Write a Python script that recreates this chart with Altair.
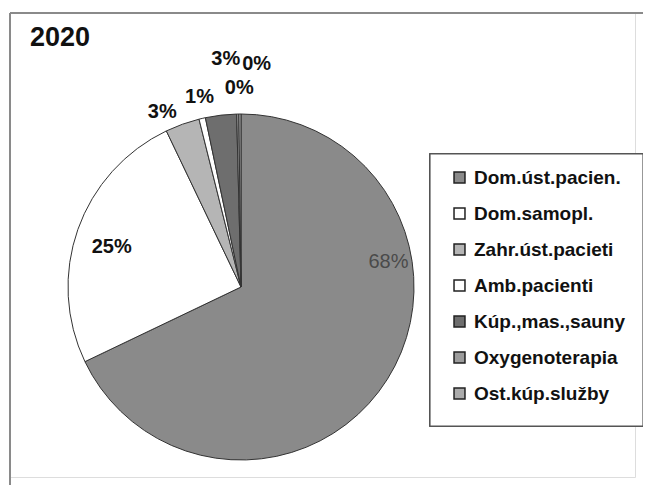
import altair as alt
import pandas as pd

categories = ["Dom.úst.pacien.", "Dom.samopl.", "Zahr.úst.pacieti", "Amb.pacienti",
              "Kúp.,mas.,sauny", "Oxygenoterapia", "Ost.kúp.služby"]
shares = [67.9, 25.0, 3.2, 0.6, 2.9, 0.2, 0.2]
colors = ["#8a8a8a", "#ffffff", "#b5b5b5", "#ffffff", "#6e6e6e", "#9c9c9c", "#ababab"]
title_text = "2020"

df = pd.DataFrame({"cat": categories, "share": shares, "idx": list(range(len(categories)))})

W, H = 625, 464
PR, PB = 8, 8
CX, CY, R = 231, 274, 173

base = alt.Chart(df).transform_calculate(lbl="round(datum.share) + '%'")

theta = alt.Theta("share:Q", stack=True)
order = alt.Order("idx:Q")

pie = base.mark_arc(radius=R, stroke="#333333", strokeWidth=1).encode(
    theta=theta,
    order=order,
    x=alt.value(CX),
    y=alt.value(CY),
    color=alt.Color(
        "cat:N",
        scale=alt.Scale(domain=categories, range=colors),
        sort=categories,
        legend=alt.Legend(
            title=None,
            orient="none",
            legendX=440,
            legendY=155,
            symbolType="square",
            symbolSize=120,
            symbolStrokeColor="#222222",
            symbolStrokeWidth=1.5,
            labelFontSize=19,
            labelFont="Liberation Sans",
            labelFontWeight="bold",
            labelColor="#111111",
            labelOffset=5,
            rowPadding=16,
            labelLimit=300,
        ),
    ),
)

# label placement: (radius, dx, dy, color, weight)
label_style = [
    (146, 24, -103, "#4a4a4a", "normal"),
    (135, -2, 5, "#111111", "bold"),
    (191, -14, 5, "#111111", "bold"),
    (194, 2, -1, "#111111", "bold"),
    (226, 11, -4, "#111111", "bold"),
    (199, 2, 0, "#111111", "bold"),
    (221, 17, -2, "#111111", "bold"),
]

label_layers = []
for i, (rr, dx, dy, col, wt) in enumerate(label_style):
    label_layers.append(
        base.mark_text(radius=rr, dx=dx, dy=dy, fontSize=20, font="Liberation Sans",
                       fontWeight=wt, color=col, align="center", baseline="middle").encode(
            theta=theta,
            order=order,
            x=alt.value(CX),
            y=alt.value(CY),
            text=alt.condition(f"datum.idx == {i}", alt.Text("lbl:N"), alt.value("")),
        )
    )

frame_top = alt.Chart(df).mark_rule(color="#8a8a8a", strokeWidth=1.5).encode(
    x=alt.value(0), x2=alt.value(W + PR), y=alt.value(0)
)
frame_left = alt.Chart(df).mark_rule(color="#8a8a8a", strokeWidth=1.5).encode(
    x=alt.value(0), y=alt.value(0), y2=alt.value(H + PB)
)
legend_box = alt.Chart(df).mark_rect(fill="white", stroke="#555555", strokeWidth=1.2).encode(
    x=alt.value(420), x2=alt.value(633), y=alt.value(141), y2=alt.value(413)
)

chart = alt.layer(frame_top, frame_left, legend_box, pie, *label_layers).properties(
    width=W,
    height=H,
    autosize=alt.AutoSizeParams(type="none"),
    padding={"left": 2, "top": 5, "right": PR, "bottom": PB},
    title=alt.TitleParams(title_text, anchor="start", frame="group", orient="top",
                          fontSize=27, font="Liberation Sans", fontWeight="bold",
                          color="#111111", offset=0, dx=20, dy=40),
).configure_view(strokeWidth=0, stroke="transparent").configure(background="white")

chart.save("out.html", embed_options={"renderer": "svg", "actions": False})
